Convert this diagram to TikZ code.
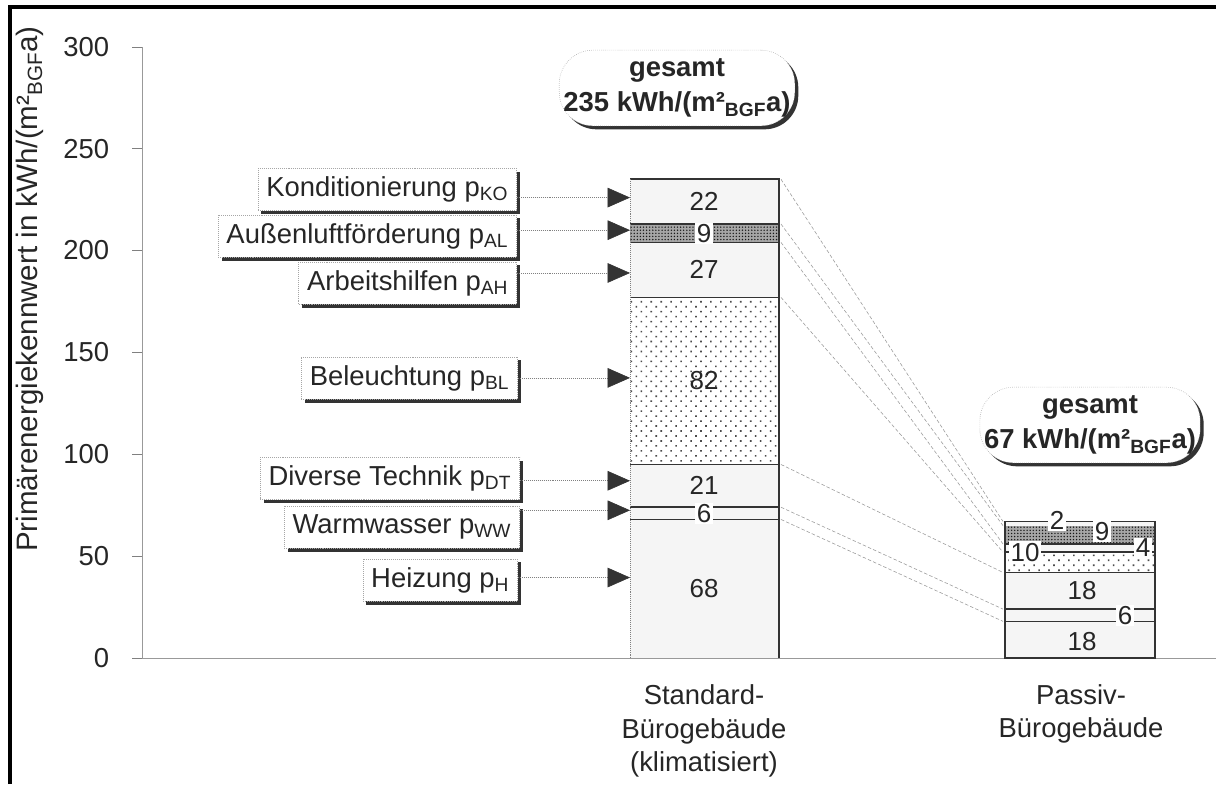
\documentclass[tikz,border=0pt]{standalone}
\usepackage{fontspec}
\setmainfont{Liberation Sans}
\usepackage{tikz}
\usetikzlibrary{positioning,arrows.meta,shadows,patterns.meta}

\begin{document}
\begin{tikzpicture}[x=0.025cm, y=-0.025cm,
  every node/.style={font=\fontsize{19.5}{23}\selectfont, text=black!85},
  callout/.style={draw=gray!70, densely dotted, fill=white, inner xsep=6pt, inner ysep=0pt,
    minimum height=30pt, anchor=east,
    drop shadow={shadow xshift=2.5pt, shadow yshift=-2.5pt, opacity=1, fill=black!80}},
  totalbox/.style={callout, anchor=center, rounded corners=24pt, align=center,
    inner xsep=3pt, inner ysep=6pt, font=\fontsize{19.5}{25}\selectfont\bfseries},
  pointer/.style={gray, densely dotted, -{Triangle[length=16pt, width=14pt, color=black!80]}},
  link/.style={gray!80, dash pattern=on 2.5pt off 1.5pt, line width=0.4pt},
  barline/.style={black!80, line width=1.1pt},
  lightfill/.style={fill=black!4},
  dotsfill/.style={pattern={Dots[distance=5pt, radius=0.8pt, angle=45]}, pattern color=black!70},
  densefill/.style={preaction={fill=black!35}, pattern={Dots[distance=2.2pt, radius=0.55pt]}, pattern color=black!90},
  value/.style={font=\fontsize{18.5}{20}\selectfont, inner sep=1pt},
  onband/.style={value, fill=white}]

\useasboundingbox (0,0) rectangle (1216,784);
\fill[white] (0,0) rectangle (1216,784);

% Frame
\draw[line width=2.2pt] (10,784) -- (10,7) -- (1216,7);

% Axis title
\node[rotate=90, font=\fontsize{21}{24}\selectfont] (ytitle) at (30,289) {Primärenergiekennwert in kWh/(m²\textsubscript{BGF}a)};

\begin{scope}[shift={(0,658)}, y=0.050925cm]
% Axis and ticks
\draw[gray!80] (142,0) -- (142,300);
\draw[gray!80] (142,0) -- (1216,0);
\foreach \v in {0,50,...,300} {
  \draw[gray] (132,\v) -- (142,\v);
  \node[anchor=east] (tick\v) at (114,\v) {\v};
}

% Standard bar
\foreach \lo/\hi/\fillkind in {0/68/lightfill, 68/74/lightfill, 74/95/lightfill, 95/177/dotsfill,
    177/204/lightfill, 204/213/densefill, 213/235/lightfill}
  \path[\fillkind] (630,\lo) rectangle (779,\hi);
\foreach \b in {68,74,95,177,204,213}
  \draw[barline] (630,\b) -- (779,\b);
\draw[barline] (630,235) -- (779,235) -- (779,0);
\draw[gray, densely dotted] (630,0) -- (630,235);

% Passiv bar
\foreach \lo/\hi/\fillkind in {0/18/lightfill, 18/24/lightfill, 24/42/lightfill, 42/52/dotsfill,
    52/56/lightfill, 56/65/densefill, 65/67/lightfill}
  \path[\fillkind] (1005,\lo) rectangle (1155,\hi);
\foreach \b in {18,24,42,52,56}
  \draw[barline] (1005,\b) -- (1155,\b);
\draw[barline] (1005,0) rectangle (1155,67);

% Links between the bars
\foreach \s in {235,213,204,177,95,74,68}
  \coordinate (s\s) at (781,\s);
\foreach \p in {67,65,56,52,42,24,18}
  \coordinate (p\p) at (1003,\p);
\foreach \s/\p in {235/67, 213/65, 204/56, 177/52, 95/42, 74/24, 68/18}
  \draw[link] (s\s) -- (p\p);

% Values standard
\node[value] (vKO) at (704,224) {22};
\node[onband] (vAL) at (704,208.5) {9};
\node[value] (vAH) at (704,190.5) {27};
\node[value] (vBL) at (704,136) {82};
\node[value] (vDT) at (704,84.5) {21};
\node[onband] (vWW) at (704,71) {6};
\node[value] (vH) at (704,34) {68};

% Values passiv
\node[onband] (wKO) at (1057,67.5) {2};
\node[onband] (wAL) at (1102,62) {9};
\node[onband] (wAH) at (1143,54) {4};
\node[onband] (wBL) at (1025,52) {10};
\node[value] (wDT) at (1082,33) {18};
\node[onband] (wWW) at (1125,21) {6};
\node[value] (wH) at (1082,8) {18};

% Arrow tips
\coordinate (tkond) at (630,226);
\coordinate (taussen) at (630,210);
\coordinate (tarbeit) at (630,189);
\coordinate (tlicht) at (630,137.5);
\coordinate (ttechnik) at (630,87);
\coordinate (twasser) at (630,72.5);
\coordinate (theiz) at (630,39.5);
\end{scope}

% Callouts
\node[callout] (kond) at (517,189.5) {Konditionierung p\textsubscript{KO}};
\node[callout] (aussen) at (517,236) {Außenluftförderung p\textsubscript{AL}};
\node[callout] (arbeit) at (517,283) {Arbeitshilfen p\textsubscript{AH}};
\node[callout] (licht) at (518,378) {Beleuchtung p\textsubscript{BL}};
\node[callout] (technik) at (520,478.5) {Diverse Technik p\textsubscript{DT}};
\node[callout] (wasser) at (520,527) {Warmwasser p\textsubscript{WW}};
\node[callout] (heiz) at (518,580) {Heizung p\textsubscript{H}};

\foreach \c in {kond,aussen,arbeit,licht,technik,wasser,heiz}
  \draw[pointer] (\c.east |- t\c) -- (t\c);

% Totals
\node[totalbox] (totstd) at (677,88) {gesamt\\235 kWh/(m²\textsubscript{BGF}a)};
\node[totalbox] (totpas) at (1090,425) {gesamt\\67 kWh/(m²\textsubscript{BGF}a)};

% Categories
\node[align=center, font=\fontsize{19.5}{24}\selectfont] (catstd) at (704,731) {Standard-\\Bürogebäude\\(klimatisiert)};
\node[align=center, font=\fontsize{19.5}{24}\selectfont] (catpas) at (1081,714) {Passiv-\\Bürogebäude};
\end{tikzpicture}
\end{document}
